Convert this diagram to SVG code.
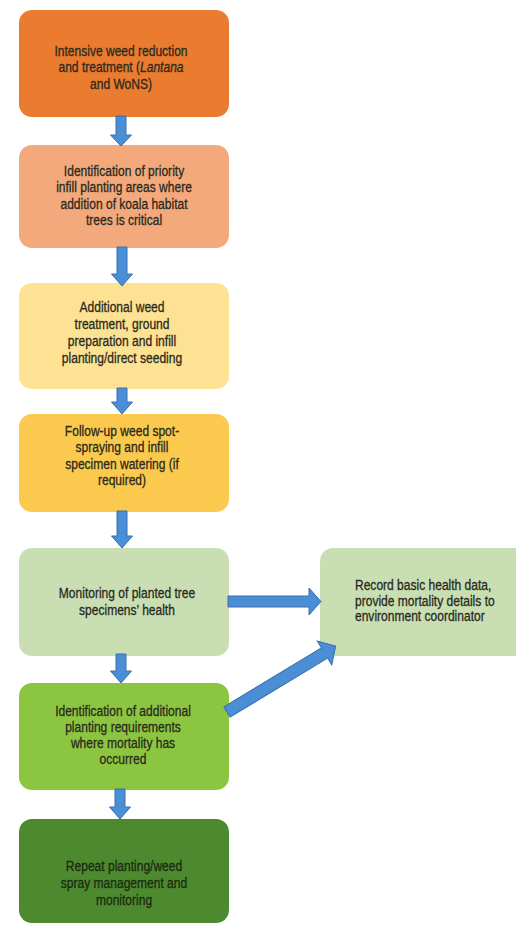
<svg xmlns="http://www.w3.org/2000/svg" width="516" height="926" viewBox="0 0 516 926">
<style>
.box{stroke:none}
.t{font-family:"Liberation Sans",Arial,sans-serif;font-size:14.5px;fill:#2a2a1e;text-anchor:middle;stroke:#2a2a1e;stroke-width:0.3}
.tl{text-anchor:start}
.arr{fill:#4a8fd6;stroke:#3a6fb0;stroke-width:1}
</style>
<rect width="516" height="926" fill="#ffffff"/>
<g id="n1"><rect class="box" x="19" y="10" width="210" height="107" rx="13" fill="#ea7b2f"/>
<text class="t" transform="translate(121,0) scale(0.83,1)"><tspan x="0" y="56">Intensive weed reduction</tspan><tspan x="0" y="72.5">and treatment (<tspan font-style="italic">Lantana</tspan></tspan><tspan x="0" y="89">and WoNS)</tspan></text></g>
<g id="n2"><rect class="box" x="19" y="145" width="210" height="103" rx="13" fill="#f4a97c"/>
<text class="t" transform="translate(124,0) scale(0.83,1)"><tspan x="0" y="176">Identification of priority</tspan><tspan x="0" y="192.5">infill planting areas where</tspan><tspan x="0" y="209">addition of koala habitat</tspan><tspan x="0" y="225.5">trees is critical</tspan></text></g>
<g id="n3"><rect class="box" x="19" y="283" width="210" height="106" rx="13" fill="#fde293"/>
<text class="t" transform="translate(122,0) scale(0.83,1)"><tspan x="0" y="312">Additional weed</tspan><tspan x="0" y="329">treatment, ground</tspan><tspan x="0" y="346">preparation and infill</tspan><tspan x="0" y="363">planting/direct seeding</tspan></text></g>
<g id="n4"><rect class="box" x="19" y="414" width="210" height="98" rx="13" fill="#fbc94e"/>
<text class="t" transform="translate(122,0) scale(0.83,1)"><tspan x="0" y="436">Follow-up weed spot-</tspan><tspan x="0" y="452.5">spraying and infill</tspan><tspan x="0" y="469">specimen watering (if</tspan><tspan x="0" y="485.5">required)</tspan></text></g>
<g id="n5"><rect class="box" x="19" y="548" width="210" height="108" rx="13" fill="#c9dfb3"/>
<text class="t" transform="translate(127,0) scale(0.83,1)"><tspan x="0" y="598">Monitoring of planted tree</tspan><tspan x="0" y="615">specimens’ health</tspan></text></g>
<g id="n6"><rect class="box" x="19" y="683" width="210" height="107" rx="13" fill="#8cc641"/>
<text class="t" transform="translate(123,0) scale(0.83,1)"><tspan x="0" y="716">Identification of additional</tspan><tspan x="0" y="732">planting requirements</tspan><tspan x="0" y="748">where mortality has</tspan><tspan x="0" y="764">occurred</tspan></text></g>
<g id="n7"><rect class="box" x="19" y="819" width="210" height="104" rx="13" fill="#4d8a2f"/>
<text class="t" transform="translate(124,0) scale(0.83,1)" style="fill:#1c2a10;stroke:#1c2a10"><tspan x="0" y="871">Repeat planting/weed</tspan><tspan x="0" y="888">spray management and</tspan><tspan x="0" y="905">monitoring</tspan></text></g>
<g id="n8"><rect class="box" x="320" y="548" width="210" height="108" rx="13" fill="#c9dfb3"/>
<text class="t tl" transform="translate(355,0) scale(0.83,1)"><tspan x="0" y="590">Record basic health data,</tspan><tspan x="0" y="606">provide mortality details to</tspan><tspan x="0" y="621">environment coordinator</tspan></text></g>
<g id="connectors">
<polygon class="arr" points="116,116 126,116 126,135 131.5,135 121,146 110.5,135 116,135"/>
<polygon class="arr" points="117,247 127,247 127,274 132.5,274 122,286 111.5,274 117,274"/>
<polygon class="arr" points="117,388 127,388 127,402 132.5,402 122,414 111.5,402 117,402"/>
<polygon class="arr" points="117,511 127,511 127,536 132.5,536 122,548 111.5,536 117,536"/>
<polygon class="arr" points="116,654 126,654 126,671 131.5,671 121,683 110.5,671 116,671"/>
<polygon class="arr" points="115,789 125,789 125,807 130.5,807 120,819 109.5,807 115,807"/>
<polygon class="arr" points="228,596 309,596 309,588 321,601.5 309,615 309,607 228,607"/>
<polygon class="arr" transform="translate(227,712) rotate(-31.2)" points="0,-6 114,-6 114,-14 127,0 114,14 114,6 0,6"/>
</g>
</svg>
